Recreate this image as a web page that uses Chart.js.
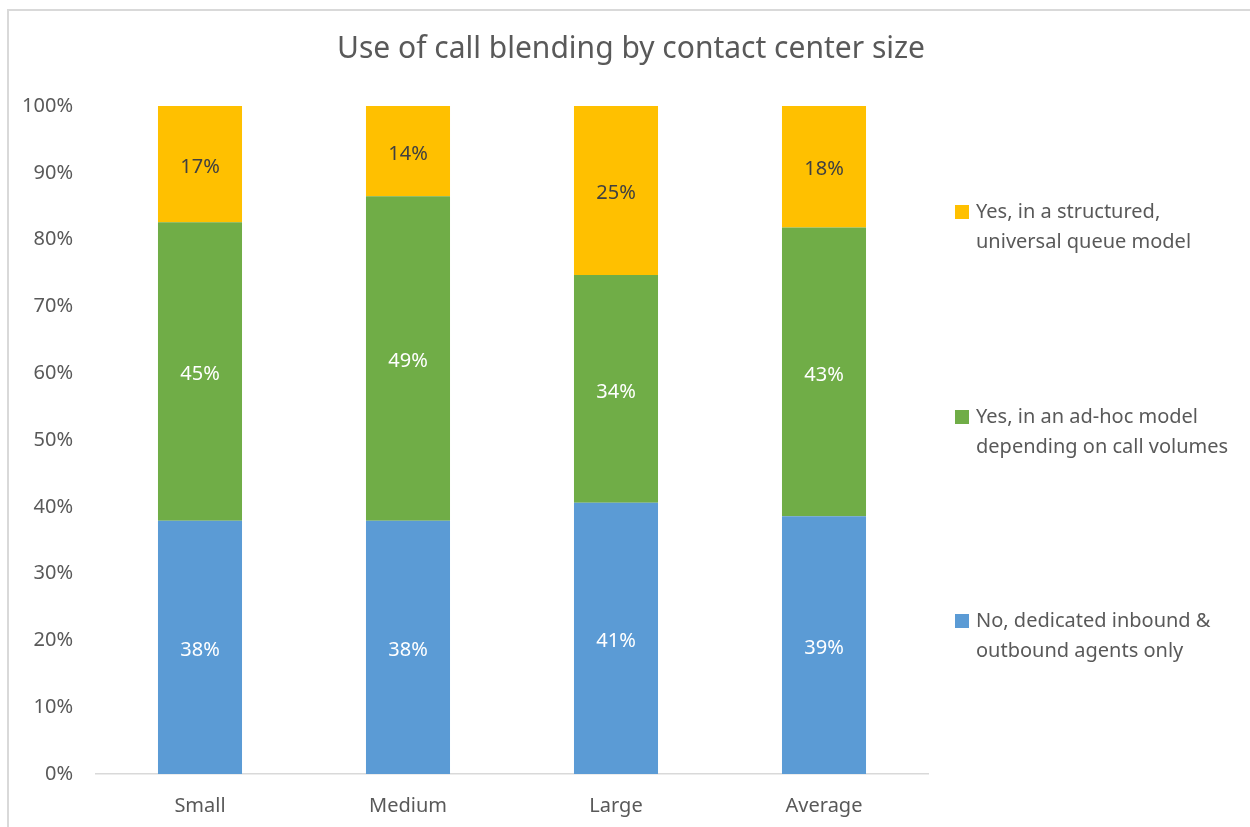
<!DOCTYPE html>
<html>
<head>
<meta charset="utf-8">
<script src="https://cdn.jsdelivr.net/npm/chart.js@4/dist/chart.umd.min.js"></script>
<style>
  html, body { margin: 0; padding: 0; background: #fff; overflow: hidden; }
  #wrap { position: relative; width: 1250px; height: 827px; }
  #frame { position: absolute; left: 7px; top: 9px; width: 1300px; height: 900px; border: 2px solid #d9d9d9; box-sizing: border-box; }
  #chart { position: absolute; left: 0; top: 0; }
</style>
</head>
<body>
<div id="wrap">
  <div id="frame"></div>
  <canvas id="chart" width="1250" height="827"></canvas>
</div>
<script>
const title = 'Use of call blending by contact center size';
const categories = ['Small', 'Medium', 'Large', 'Average'];
const seriesNames = [
  'No, dedicated inbound & outbound agents only',
  'Yes, in an ad-hoc model depending on call volumes',
  'Yes, in a structured, universal queue model'
];
// legend text as shown (two lines each)
const legendLines = [
  ['No, dedicated inbound &', 'outbound agents only'],
  ['Yes, in an ad-hoc model', 'depending on call volumes'],
  ['Yes, in a structured,', 'universal queue model']
];
const dedicated = [37.9, 37.9, 40.6, 38.6];
const adHoc = [44.7, 48.6, 34.1, 43.2];
const structured = [17.4, 13.5, 25.3, 18.2];
const yTicks = [0, 10, 20, 30, 40, 50, 60, 70, 80, 90, 100];

const colors = ['#5B9BD5', '#70AD47', '#FFC000'];
const labelColors = ['#ffffff', '#ffffff', '#404040'];
const fontFamily = '"Noto Sans", "Open Sans", sans-serif';
const textGrey = '#595959';

const chartTitle = {
  id: 'chartTitle',
  afterDraw(chart) {
    const ctx = chart.ctx;
    ctx.save();
    ctx.font = '30px ' + fontFamily;
    ctx.fillStyle = textGrey;
    ctx.textAlign = 'center';
    ctx.textBaseline = 'middle';
    ctx.fillText(title, 631, 49);
    ctx.restore();
  }
};

const barLabels = {
  id: 'barLabels',
  afterDatasetsDraw(chart) {
    const ctx = chart.ctx;
    ctx.save();
    ctx.font = '20px ' + fontFamily;
    ctx.textAlign = 'center';
    ctx.textBaseline = 'middle';
    chart.data.datasets.forEach((ds, i) => {
      const meta = chart.getDatasetMeta(i);
      meta.data.forEach((bar, j) => {
        ctx.fillStyle = labelColors[i];
        ctx.fillText(Math.round(ds.data[j]) + '%', bar.x, (bar.y + bar.base) / 2 + 3);
      });
    });
    ctx.restore();
  }
};

const sideLegend = {
  id: 'sideLegend',
  afterDraw(chart) {
    const ctx = chart.ctx;
    const x = 955;
    const rows = [636, 432, 227]; // vertical centre of each entry, bottom series first
    ctx.save();
    ctx.font = '20px ' + fontFamily;
    ctx.textBaseline = 'middle';
    ctx.textAlign = 'left';
    chart.data.datasets.forEach((ds, i) => {
      const yc = rows[i];
      ctx.fillStyle = colors[i];
      ctx.fillRect(x, yc - 15 - 7, 14, 14);
      ctx.fillStyle = textGrey;
      ctx.fillText(legendLines[i][0], x + 21, yc - 15);
      ctx.fillText(legendLines[i][1], x + 21, yc + 15);
    });
    ctx.restore();
  }
};

new Chart(document.getElementById('chart'), {
  type: 'bar',
  data: {
    labels: categories,
    datasets: [
      { label: seriesNames[0], data: dedicated, backgroundColor: colors[0] },
      { label: seriesNames[1], data: adHoc, backgroundColor: colors[1] },
      { label: seriesNames[2], data: structured, backgroundColor: colors[2] }
    ]
  },
  options: {
    responsive: false,
    animation: false,
    categoryPercentage: 1,
    barPercentage: 0.404,
    layout: { padding: { left: 8, right: 322, top: 106, bottom: 0 } },
    plugins: {
      legend: { display: false },
      tooltip: { enabled: false },
      title: { display: false }
    },
    scales: {
      x: {
        stacked: true,
        afterFit(scale) { scale.height = 53; },
        grid: { display: false },
        border: { color: '#d9d9d9', width: 1.5 },
        ticks: { color: textGrey, font: { family: fontFamily, size: 20 }, padding: 12 }
      },
      y: {
        stacked: true,
        min: 0,
        max: 100,
        afterBuildTicks(scale) { scale.ticks = yTicks.map(v => ({ value: v })); },
        afterFit(scale) { scale.width = 88; },
        grid: { display: false },
        border: { display: false },
        ticks: {
          color: textGrey,
          font: { family: fontFamily, size: 20 },
          padding: 15,
          callback: v => v + '%'
        }
      }
    }
  },
  plugins: [barLabels, sideLegend, chartTitle]
});
</script>
</body>
</html>
